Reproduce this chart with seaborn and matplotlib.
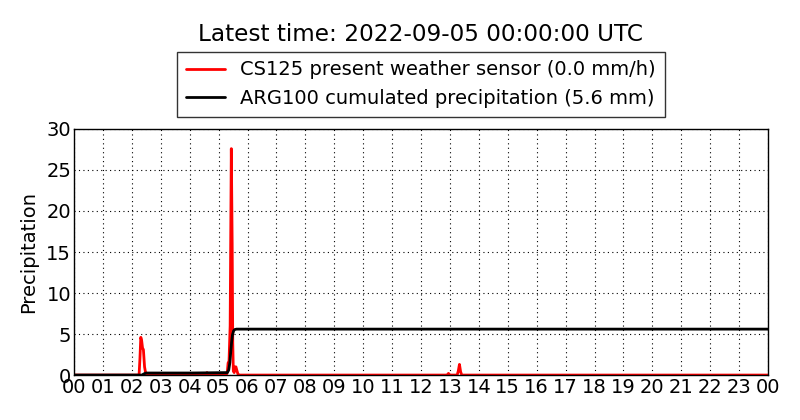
import matplotlib
matplotlib.use("Agg")
import matplotlib.pyplot as plt
import seaborn as sns
import pandas as pd

# hours since 00 UTC on the plotted day
sensor_hours = [0.0, 2.25, 2.28, 2.31, 2.34, 2.37, 2.40, 2.44, 2.48, 2.52,
                3.85, 3.90, 3.95, 4.55, 4.60, 4.65,
                5.26, 5.30, 5.33, 5.36, 5.40, 5.44, 5.47, 5.49, 5.51, 5.54, 5.57, 5.60, 5.63, 5.67, 5.71,
                12.90, 12.95, 13.00, 13.25, 13.29, 13.33, 13.37, 13.41, 24.0]
sensor_rate = [0.0, 0.0, 2.0, 4.6, 4.2, 3.3, 3.1, 1.0, 0.2, 0.0,
               0.0, 0.15, 0.0, 0.0, 0.3, 0.0,
               0.0, 0.3, 1.5, 1.6, 6.0, 27.6, 16.0, 4.0, 0.5, 0.3, 1.0, 1.0, 0.6, 0.1, 0.0,
               0.0, 0.2, 0.0, 0.0, 0.5, 1.3, 0.4, 0.0, 0.0]

gauge_hours = [0.0, 2.35, 2.42, 2.50, 4.00, 5.30, 5.35, 5.39, 5.42, 5.45, 5.48, 5.52, 5.56, 5.62, 5.72, 24.0]
gauge_cum = [0.0, 0.0, 0.15, 0.25, 0.25, 0.3, 0.6, 1.5, 2.8, 4.0, 4.9, 5.4, 5.55, 5.6, 5.6, 5.6]

hour_labels = ["%02d" % (h % 24) for h in range(25)]

sensor = pd.DataFrame({"hour": sensor_hours, "rate": sensor_rate})
gauge = pd.DataFrame({"hour": gauge_hours, "cum": gauge_cum})

sns.set_style("white")
plt.rcParams["font.family"] = ["DejaVu Sans"]
plt.rcParams["text.color"] = "black"
plt.rcParams["axes.labelcolor"] = "black"
plt.rcParams["xtick.color"] = "black"
plt.rcParams["ytick.color"] = "black"

fig = plt.figure(figsize=(8, 4.2), dpi=100)
ax = fig.add_axes([0.0925, 0.107, 0.8675, 0.586])

sns.lineplot(data=sensor, x="hour", y="rate", ax=ax, color="red", linewidth=2,
             label="CS125 present weather sensor (0.0 mm/h)")
sns.lineplot(data=gauge, x="hour", y="cum", ax=ax, color="black", linewidth=2,
             label="ARG100 cumulated precipitation (5.6 mm)")

ax.set_xlim(0, 24)
ax.set_ylim(0, 30)
ax.set_xticks(range(25))
ax.set_xticklabels(hour_labels)
ax.set_yticks(range(0, 31, 5))
ax.tick_params(labelsize=14, direction="in", length=4, pad=2)
ax.set_xlabel("")
ax.set_ylabel("Precipitation", fontsize=14, labelpad=6)
ax.grid(True, linestyle=(0, (1, 3)), color="black", linewidth=0.8)
for s in ax.spines.values():
    s.set_color("black")
    s.set_linewidth(1)

leg = ax.legend(loc="lower center", bbox_to_anchor=(0.5, 1.049), fontsize=14,
                frameon=True, fancybox=False, handlelength=2.0, borderpad=0.45,
                labelspacing=0.5, borderaxespad=0)
leg.get_frame().set_edgecolor("black")
leg.get_frame().set_linewidth(1)

fig.text(0.526, 0.917, "Latest time: 2022-09-05 00:00:00 UTC", ha="center", va="center", fontsize=16.7)

fig.savefig("out.png", dpi=100)
